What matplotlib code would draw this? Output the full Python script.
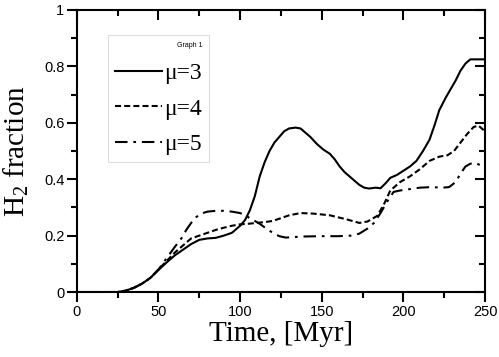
import matplotlib
matplotlib.use("Agg")
import matplotlib.pyplot as plt
from matplotlib.ticker import MultipleLocator

# mu = 3 (solid)
t3 = [0, 10, 20, 25, 30, 35, 40, 45, 50, 55, 60, 65, 70, 75, 80, 85, 90, 95, 100,
      103, 106, 109, 112, 115, 118, 121, 124, 127, 130, 134, 137, 140, 143, 147,
      151, 155, 158, 161, 164, 167, 170, 173, 176, 179, 183, 186, 189, 192, 196,
      200, 204, 208, 212, 216, 219, 222, 226, 229, 232, 235, 238, 241, 245, 250]
f3 = [0.0, 0.0, 0.0, 0.0, 0.005, 0.015, 0.03, 0.05, 0.078, 0.105, 0.13, 0.15, 0.17,
      0.185, 0.19, 0.192, 0.2, 0.21, 0.235, 0.255, 0.29, 0.34, 0.41, 0.46, 0.5,
      0.53, 0.55, 0.57, 0.58, 0.583, 0.58, 0.565, 0.55, 0.525, 0.505, 0.49, 0.47,
      0.445, 0.425, 0.41, 0.395, 0.38, 0.37, 0.367, 0.37, 0.368, 0.385, 0.405,
      0.415, 0.43, 0.445, 0.465, 0.5, 0.54, 0.59, 0.645, 0.69, 0.72, 0.75, 0.785,
      0.81, 0.825, 0.825, 0.825]

# mu = 4 (dashed)
t4 = [0, 10, 20, 25, 30, 35, 40, 45, 50, 55, 60, 65, 70, 75, 80, 85, 90, 95, 100,
      105, 110, 115, 120, 125, 130, 137, 145, 155, 165, 173, 178, 184, 188, 192,
      198, 204, 210, 216, 222, 227, 231, 235, 239, 243, 246, 250]
f4 = [0.0, 0.0, 0.0, 0.0, 0.005, 0.015, 0.03, 0.05, 0.08, 0.11, 0.14, 0.165, 0.19,
      0.2, 0.21, 0.22, 0.228, 0.235, 0.24, 0.242, 0.245, 0.248, 0.252, 0.262,
      0.272, 0.28, 0.278, 0.272, 0.258, 0.245, 0.25, 0.27, 0.31, 0.36, 0.39,
      0.41, 0.435, 0.465, 0.48, 0.485, 0.5, 0.53, 0.56, 0.585, 0.59, 0.57]

# mu = 5 (dash-dot)
t5 = [0, 10, 20, 25, 30, 35, 40, 45, 50, 55, 60, 64, 67, 70, 73, 76, 80, 85, 90,
      95, 100, 103, 106, 109, 112, 116, 120, 124, 128, 133, 140, 150, 160, 168,
      173, 178, 182, 186, 190, 194, 198, 204, 210, 217, 224, 228, 232, 235, 238,
      241, 244, 247, 250]
f5 = [0.0, 0.0, 0.0, 0.0, 0.005, 0.015, 0.03, 0.05, 0.08, 0.12, 0.16, 0.19, 0.22,
      0.245, 0.265, 0.278, 0.285, 0.288, 0.288, 0.285, 0.28, 0.272, 0.262,
      0.252, 0.242, 0.225, 0.21, 0.198, 0.193, 0.195, 0.197, 0.198, 0.198, 0.2,
      0.207, 0.225, 0.245, 0.28, 0.32, 0.355, 0.36, 0.365, 0.37, 0.372, 0.37,
      0.372, 0.39, 0.42, 0.445, 0.455, 0.458, 0.45, 0.44]

xticks = [0, 50, 100, 150, 200, 250]
yticks = [0, 0.2, 0.4, 0.6, 0.8, 1]
ytick_labels = ["0", "0.2", "0.4", "0.6", "0.8", "1"]
labels = ["\u03bc=3", "\u03bc=4", "\u03bc=5"]

plt.rcParams["mathtext.fontset"] = "custom"
plt.rcParams["mathtext.rm"] = "Liberation Serif"

fig = plt.figure(figsize=(4.99, 3.57), dpi=100)
ax = fig.add_axes([0.154, 0.182, 0.818, 0.79])

lw = 1.5
ax.plot(t3, f3, color="black", lw=lw, label=labels[0])
ax.plot(t4, f4, color="black", lw=lw, dashes=(2.9, 1.5), label=labels[1])
ax.plot(t5, f5, color="black", lw=lw, dashes=(6, 2.8, 1.3, 2.8), label=labels[2])

ax.set_xlim(0, 250)
ax.set_ylim(0, 1)
ax.set_xticks(xticks)
ax.set_yticks(yticks)
ax.set_yticklabels(ytick_labels)
ax.xaxis.set_minor_locator(MultipleLocator(25))
ax.yaxis.set_minor_locator(MultipleLocator(0.1))

for s in ax.spines.values():
    s.set_linewidth(1.5)

# bottom/left ticks point out
ax.tick_params(which="both", direction="out", top=False, right=False, width=1.5,
               labelsize=10.5, labelfontfamily="Liberation Sans")
ax.tick_params(which="major", length=7, pad=2)
ax.tick_params(which="minor", length=4)

# top/right ticks point in (twin axes)
axt = ax.twiny()
axt.set_xlim(0, 250)
axt.set_xticks(xticks)
axt.xaxis.set_minor_locator(MultipleLocator(25))
axt.tick_params(which="both", direction="in", width=1.5, labeltop=False)
axt.tick_params(which="major", length=7)
axt.tick_params(which="minor", length=4)
axr = ax.twinx()
axr.set_ylim(0, 1)
axr.set_yticks(yticks)
axr.yaxis.set_minor_locator(MultipleLocator(0.1))
axr.tick_params(which="both", direction="in", width=1.5, labelright=False)
axr.tick_params(which="major", length=7)
axr.tick_params(which="minor", length=4)
for a in (axt, axr):
    for s in a.spines.values():
        s.set_visible(False)

ax.set_xlabel("Time, [Myr]", family="Liberation Serif", fontsize=21, labelpad=2)
ax.set_ylabel("H$_2$ fraction", family="Liberation Serif", fontsize=21, labelpad=9)

leg = ax.legend(loc="upper left", bbox_to_anchor=(0.076, 0.911), borderaxespad=0,
                title="Graph 1",
                prop={"family": "Liberation Serif", "size": 17}, handlelength=2.0,
                handletextpad=0.1, labelspacing=0.58, borderpad=0.3,
                fancybox=False, framealpha=1, edgecolor="#dddddd")
leg.get_title().set_fontsize(5)
leg.get_title().set_family("Liberation Sans")
leg.get_frame().set_linewidth(0.8)
leg._legend_box.align = "right"

fig.savefig("out.png", dpi=100)
